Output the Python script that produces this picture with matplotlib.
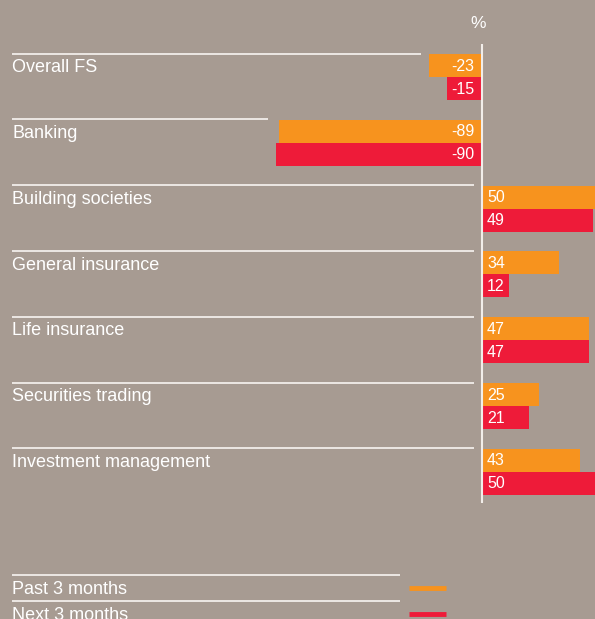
import matplotlib
matplotlib.use('Agg')
import matplotlib.pyplot as plt

plt.rcParams['font.family'] = ['Liberation Sans', 'DejaVu Sans']

categories = ['Overall FS', 'Banking', 'Building societies', 'General insurance',
              'Life insurance', 'Securities trading', 'Investment management']
past_3m = [-23, -89, 50, 34, 47, 25, 43]
next_3m = [-15, -90, 49, 12, 47, 21, 50]
legend_labels = ['Past 3 months', 'Next 3 months']

BG = '#a79b92'
ORANGE = '#f7931e'
RED = '#ee1b39'
LINE = '#f2eeea'

W, H = 595, 619
ZERO_PX = 481.5
PX_PER_UNIT = 2.28
GROUP_PX = 65.8
FIRST_CENTER_PX = 77.0

fig = plt.figure(figsize=(W / 100, H / 100), dpi=100, facecolor=BG)
ax = fig.add_axes([0, 0, 1, 1])
ax.set_facecolor(BG)
ax.set_xlim(-ZERO_PX / PX_PER_UNIT, (W - ZERO_PX) / PX_PER_UNIT)
ax.set_ylim((H - FIRST_CENTER_PX) / GROUP_PX, -FIRST_CENTER_PX / GROUP_PX)
ax.axis('off')

bar_h = 23 / GROUP_PX
x_left = (12 - ZERO_PX) / PX_PER_UNIT
gap = 8 / PX_PER_UNIT

for i, (name, p, n) in enumerate(zip(categories, past_3m, next_3m)):
    ax.barh(i - bar_h / 2, p, height=bar_h, color=ORANGE, linewidth=0)
    ax.barh(i + bar_h / 2, n, height=bar_h, color=RED, linewidth=0)

    # separator line above each group, stopping short of the bars
    end = min(0, p, n) - gap
    top = i - 23.5 / GROUP_PX
    ax.plot([x_left, end], [top, top], color=LINE, lw=1.3, solid_capstyle='butt')
    ax.text(x_left, i - 4.8 / GROUP_PX, name, color='white', fontsize=13,
            ha='left', va='baseline')

    for val, yy in ((p, i - bar_h / 2), (n, i + bar_h / 2)):
        if val >= 0:
            ax.text(2.4, yy + 0.01, f'{val}', color='white', fontsize=11.5,
                    ha='left', va='center')
        else:
            ax.text(-3.2, yy + 0.01, f'{val}', color='white', fontsize=11.5,
                    ha='right', va='center')

# zero axis line
ax.vlines(0, (44 - FIRST_CENTER_PX) / GROUP_PX, (503 - FIRST_CENTER_PX) / GROUP_PX,
          color=LINE, lw=1.5)
ax.text(-3 / PX_PER_UNIT, (23.5 - FIRST_CENTER_PX) / GROUP_PX, '%', color='white',
        fontsize=12.5, ha='center', va='center')

# legend drawn by hand at the bottom
for k, (lab, col) in enumerate(zip(legend_labels, [ORANGE, RED])):
    y_line = 1 - (574.5 + 26 * k) / H
    y_text = 1 - (594 + 26 * k) / H
    y_patch = 1 - (587.5 + 26 * k) / H
    ax.plot([12 / W, 400 / W], [y_line, y_line], color=LINE, lw=1.3,
            transform=ax.transAxes, solid_capstyle='butt')
    ax.text(12 / W, y_text, lab, color='white', fontsize=13, ha='left',
            va='baseline', transform=ax.transAxes)
    ax.plot([409 / W, 446 / W], [y_patch, y_patch], color=col, lw=3.5,
            transform=ax.transAxes, solid_capstyle='butt')

fig.savefig('out.png', dpi=100, facecolor=BG)
